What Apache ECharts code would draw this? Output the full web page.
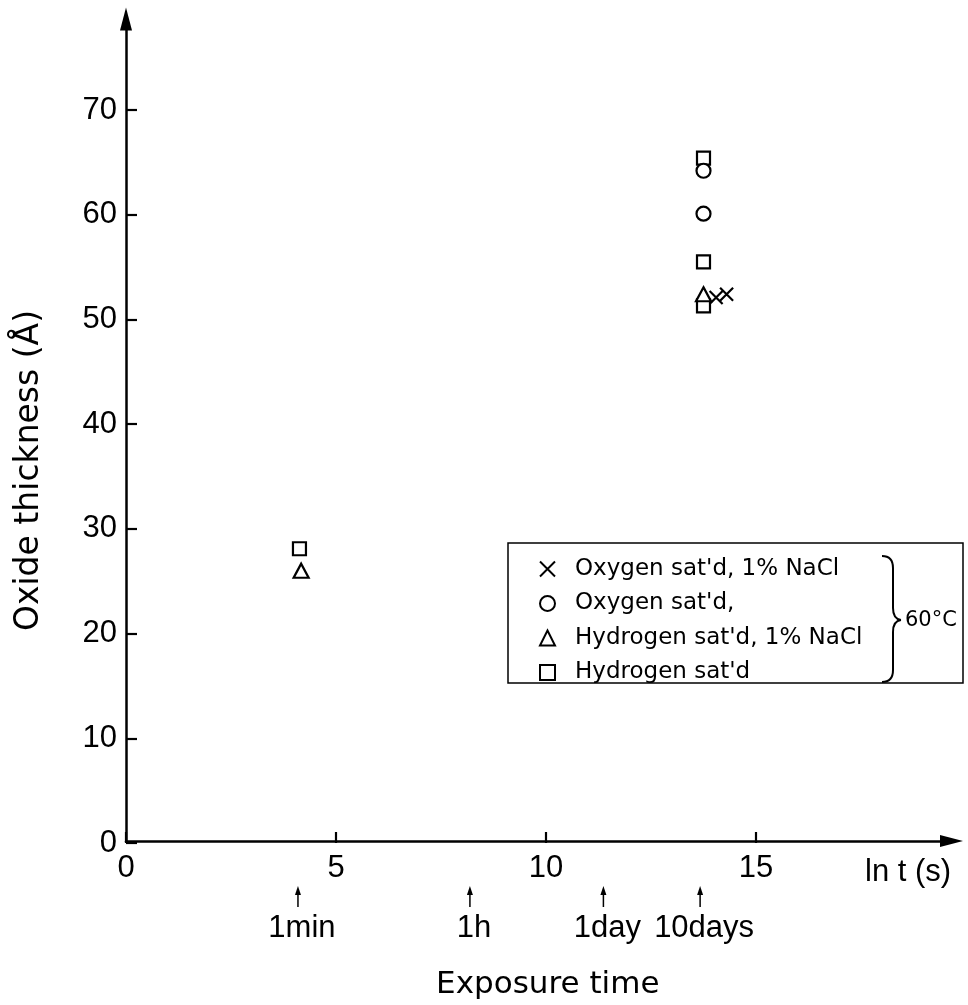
<!DOCTYPE html>
<html>
<head>
<meta charset="utf-8">
<script src="https://cdn.jsdelivr.net/npm/echarts@6/dist/echarts.min.js"></script>
<style>
  html, body { margin: 0; padding: 0; background: #fff; }
  #chart { width: 968px; height: 1005px; }
</style>
</head>
<body>
<div id="chart"></div>
<script>
// Oxide thickness (Å) against ln t (t in seconds), 60 °C exposures
const oxyNaClX = [14.05, 14.3];
const oxyNaClY = [52.1, 52.4];
const oxyX = [13.75, 13.75];
const oxyY = [64.2, 60.1];
const hydNaClX = [4.17, 13.75];
const hydNaClY = [26.0, 52.4];
const hydX = [4.13, 13.75, 13.75, 13.75];
const hydY = [28.1, 65.4, 55.5, 51.3];

const seriesNames = ["Oxygen sat'd, 1% NaCl", "Oxygen sat'd,", "Hydrogen sat'd, 1% NaCl", "Hydrogen sat'd"];

// Reference exposure times marked under the ln t axis
const timeLabels = ['1min', '1h', '1day', '10days'];
const timeSeconds = [60, 3600, 86400, 864000];

const xTickStep = 5, xTickMax = 15;
const yTickStep = 10, yTickMax = 70;

const pairs = (xs, ys) => xs.map((x, i) => [x, ys[i]]);
const markStyle = { color: '#fff', borderColor: '#000', borderWidth: 2.2, opacity: 1 };
const crossPath = 'path://M0,0L10,10M10,0L0,10';
const numFont = 'Liberation Sans';
const textFont = 'DejaVu Sans';

const chart = echarts.init(document.getElementById('chart'), null, { renderer: 'canvas' });

const arrowLine = {
  show: true,
  symbol: ['none', 'triangle'],
  symbolSize: [12, 23],
  lineStyle: { color: '#000', width: 2.5 }
};
const innerTick = { show: true, inside: true, length: 11, lineStyle: { color: '#000', width: 2.2 } };

chart.setOption({
  animation: false,
  backgroundColor: '#fff',
  grid: [
    { left: 126, right: 16.5, top: 19, bottom: 162 },
    { left: 126, width: 630, top: 110, bottom: 162 }
  ],
  xAxis: [
    {
      gridIndex: 0, type: 'value', min: 0, max: 19.67,
      axisLine: arrowLine, axisTick: { show: false }, axisLabel: { show: false }, splitLine: { show: false },
      name: 'Exposure time', nameLocation: 'middle', nameGap: 128,
      nameTextStyle: { fontFamily: textFont, fontSize: 31, color: '#000', padding: [0, 0, 0, 18] }
    },
    {
      gridIndex: 1, type: 'value', min: 0, max: xTickMax, interval: xTickStep,
      axisLine: { show: false }, axisTick: innerTick,
      axisLabel: { fontFamily: numFont, fontSize: 31, color: '#000', margin: 10 },
      splitLine: { show: false }
    }
  ],
  yAxis: [
    {
      gridIndex: 0, type: 'value', min: 0, max: 78.7,
      axisLine: arrowLine, axisTick: { show: false }, axisLabel: { show: false }, splitLine: { show: false }
    },
    {
      gridIndex: 1, type: 'value', min: 0, max: yTickMax, interval: yTickStep,
      axisLine: { show: false }, axisTick: innerTick,
      axisLabel: { fontFamily: numFont, fontSize: 31, color: '#000', margin: 9 },
      splitLine: { show: false },
      name: 'Oxide thickness (Å)', nameLocation: 'middle', nameGap: 80,
      nameTextStyle: { fontFamily: textFont, fontSize: 33, color: '#000', padding: [0, 0, 0, 12] }
    }
  ],
  legend: {
    data: seriesNames,
    orient: 'vertical',
    left: 539, top: 557,
    padding: 0,
    itemGap: 10.5,
    itemWidth: 15, itemHeight: 15,
    selectedMode: false,
    textStyle: { fontFamily: textFont, fontSize: 23, color: '#000', lineHeight: 24, padding: [0, 0, 0, 15] }
  },
  series: [
    {
      name: seriesNames[3], type: 'scatter', xAxisIndex: 1, yAxisIndex: 1,
      symbol: 'rect', symbolSize: 13, itemStyle: markStyle, data: pairs(hydX, hydY)
    },
    {
      name: seriesNames[1], type: 'scatter', xAxisIndex: 1, yAxisIndex: 1,
      symbol: 'circle', symbolSize: 14, itemStyle: markStyle, data: pairs(oxyX, oxyY)
    },
    {
      name: seriesNames[2], type: 'scatter', xAxisIndex: 1, yAxisIndex: 1,
      symbol: 'triangle', symbolSize: [15, 14], itemStyle: markStyle, data: pairs(hydNaClX, hydNaClY)
    },
    {
      name: seriesNames[0], type: 'scatter', xAxisIndex: 1, yAxisIndex: 1,
      symbol: crossPath, symbolSize: 13, itemStyle: markStyle, data: pairs(oxyNaClX, oxyNaClY)
    }
  ]
});

// Legend frame, temperature brace, axis variable label and time markers
const stroke2 = { fill: 'none', stroke: '#000', lineWidth: 2 };
const graphics = [
  {
    type: 'rect', shape: { x: 508, y: 543, width: 455, height: 140 },
    style: { fill: 'none', stroke: '#000', lineWidth: 1.5 }, silent: true
  },
  { type: 'bezierCurve', shape: { x1: 882, y1: 556, cpx1: 893, cpy1: 556, x2: 893, y2: 568 }, style: stroke2, silent: true },
  { type: 'line', shape: { x1: 893, y1: 568, x2: 893, y2: 608 }, style: stroke2, silent: true },
  { type: 'bezierCurve', shape: { x1: 893, y1: 608, cpx1: 893, cpy1: 619, x2: 901, y2: 620 }, style: stroke2, silent: true },
  { type: 'bezierCurve', shape: { x1: 901, y1: 620, cpx1: 893, cpy1: 621, x2: 893, y2: 632 }, style: stroke2, silent: true },
  { type: 'line', shape: { x1: 893, y1: 632, x2: 893, y2: 670 }, style: stroke2, silent: true },
  { type: 'bezierCurve', shape: { x1: 893, y1: 670, cpx1: 893, cpy1: 682, x2: 882, y2: 682 }, style: stroke2, silent: true },
  {
    type: 'text', x: 905, y: 621,
    style: { text: '60°C', font: '21px "DejaVu Sans"', fill: '#000', align: 'left', verticalAlign: 'middle' }
  },
  {
    type: 'text', x: 865, y: 872,
    style: { text: 'ln t (s)', font: '31px "Liberation Sans"', fill: '#000', align: 'left', verticalAlign: 'middle' }
  }
];

timeSeconds.forEach((sec, i) => {
  const px = chart.convertToPixel({ xAxisIndex: 1 }, Math.log(sec));
  graphics.push({
    type: 'line', shape: { x1: px, y1: 907, x2: px, y2: 893 },
    style: { stroke: '#000', lineWidth: 1.5 }, silent: true
  });
  graphics.push({
    type: 'polygon', shape: { points: [[px, 886], [px - 3, 895], [px + 3, 895]] },
    style: { fill: '#000' }, silent: true
  });
  graphics.push({
    type: 'text', x: px + 4, y: 928,
    style: { text: timeLabels[i], font: '31px "Liberation Sans"', fill: '#000', align: 'center', verticalAlign: 'middle' }
  });
});

chart.setOption({ graphic: graphics });
</script>
</body>
</html>
